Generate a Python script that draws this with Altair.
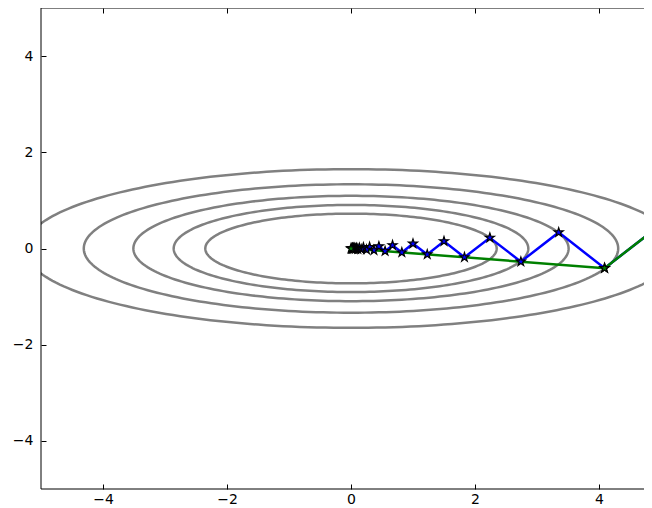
import numpy as np
import pandas as pd
import altair as alt

# contour ellipses (semi-axes)
ell_a = [2.35, 2.86, 3.51, 4.31, 5.27]
ell_b = [0.725, 0.905, 1.095, 1.335, 1.65]

# steepest descent path (blue)
sd_x = [5.0, 4.09, 3.35, 2.74, 2.24, 1.83, 1.50, 1.23, 1.00, 0.82, 0.67, 0.55,
        0.45, 0.37, 0.30, 0.25, 0.20, 0.165, 0.135, 0.11, 0.09, 0.074, 0.061,
        0.05, 0.041, 0.033, 0.027, 0.022, 0.018, 0.015]
sd_y = [0.5, -0.409, 0.335, -0.274, 0.224, -0.183, 0.150, -0.123, 0.100, -0.082,
        0.067, -0.055, 0.045, -0.037, 0.030, -0.025, 0.020, -0.017, 0.014, -0.011,
        0.009, -0.007, 0.006, -0.005, 0.004, -0.003, 0.003, -0.002, 0.002, -0.0015]

# conjugate gradient path (green)
cg_x = [5.0, 4.09, 0.0]
cg_y = [0.5, -0.409, 0.0]

x_ticks = [-4, -2, 0, 2, 4]
y_ticks = [-4, -2, 0, 2, 4]

# build ellipse outlines
t = np.linspace(0, 2 * np.pi, 241)
rows = []
for k, (a, b) in enumerate(zip(ell_a, ell_b)):
    for i, tt in enumerate(t):
        rows.append({"lvl": k, "i": i, "x": a * np.cos(tt), "y": b * np.sin(tt)})
df_ell = pd.DataFrame(rows)
df_sd = pd.DataFrame({"i": range(len(sd_x)), "x": sd_x, "y": sd_y})
df_cg = pd.DataFrame({"i": range(len(cg_x)), "x": cg_x, "y": cg_y})

xdom = [-5, 4.726]   # visible part of the x range (right edge is cut off in the picture)
ydom = [-5, 5]
xs = alt.Scale(domain=xdom, nice=False, zero=False)
ys = alt.Scale(domain=ydom, nice=False, zero=False)

x_axis = alt.Axis(orient="bottom", values=x_ticks, offset=-5, tickSize=5, format="d",
                  domain=False, grid=False, labelPadding=3, title=None)
y_axis = alt.Axis(orient="left", values=y_ticks, offset=-5, tickSize=5, format="d",
                  domain=False, grid=False, labelPadding=8, title=None)

X = alt.X("x:Q", scale=xs, axis=x_axis)
Y = alt.Y("y:Q", scale=ys, axis=y_axis)

star = ("M0,-1L0.2245,-0.309L0.951,-0.309L0.363,0.118L0.588,0.809L0,0.382"
        "L-0.588,0.809L-0.363,0.118L-0.951,-0.309L-0.2245,-0.309Z")

ellipses = alt.Chart(df_ell).mark_line(color="#808080", strokeWidth=2.5, clip=True).encode(
    x=X, y=Y, detail="lvl:N", order="i:Q")
blue = alt.Chart(df_sd).mark_line(color="#0000ff", strokeWidth=2.5, clip=True).encode(
    x=X, y=Y, order="i:Q")
green = alt.Chart(df_cg).mark_line(color="#008000", strokeWidth=2.5, clip=True).encode(
    x=X, y=Y, order="i:Q")
blue_pts = alt.Chart(df_sd).mark_point(shape=star, size=90, filled=True, fill="#0000ff",
                                       stroke="black", strokeWidth=1.2, opacity=1, clip=True).encode(x=X, y=Y)
green_pts = alt.Chart(df_cg).mark_point(shape=star, size=90, filled=True, fill="#008000",
                                        stroke="black", strokeWidth=1.2, opacity=1, clip=True).encode(x=X, y=Y)

# spines: left, bottom, top (the right one lies outside the picture)
spine_left = alt.Chart().mark_rule(color="black", strokeWidth=1).encode(
    x=alt.datum(xdom[0]), y=alt.datum(ydom[0]), y2=alt.datum(ydom[1]))
spine_bottom = alt.Chart().mark_rule(color="black", strokeWidth=1).encode(
    y=alt.datum(ydom[0]), x=alt.datum(xdom[0]), x2=alt.datum(xdom[1]))
spine_top = alt.Chart().mark_rule(color="black", strokeWidth=1).encode(
    y=alt.datum(ydom[1]), x=alt.datum(xdom[0]), x2=alt.datum(xdom[1]))

main = alt.layer(ellipses, blue, green, blue_pts, green_pts,
                 spine_left, spine_bottom, spine_top)

top = alt.Chart(df_cg).mark_point(opacity=0, clip=True).encode(
    x=alt.X("x:Q", scale=alt.Scale(domain=xdom, nice=False, zero=False),
            axis=alt.Axis(orient="top", values=x_ticks, offset=-5, tickSize=5,
                          domain=False, grid=False, labels=False, title=None)),
    y=Y)

chart = alt.layer(main, top).resolve_scale(x="independent").properties(
    width=603, height=481,
    autosize=alt.AutoSizeParams(type="none"),
    padding={"left": 33, "top": 0, "right": 0, "bottom": 19},
).configure_view(stroke=None).configure_axis(
    labelFont="DejaVu Sans", labelFontSize=14, labelColor="black",
    tickColor="black", tickWidth=1,
)

chart.save("out.html", embed_options={"renderer": "svg", "actions": False})
